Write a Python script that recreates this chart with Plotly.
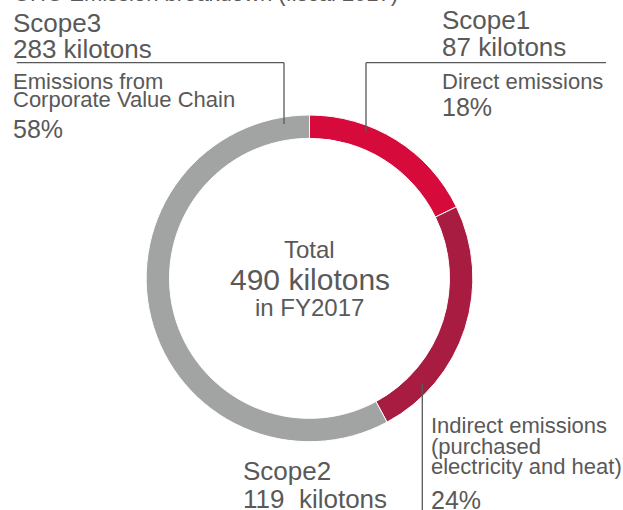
import plotly.graph_objects as go

# Data
##################################

scopes = ["Scope1", "Scope2", "Scope3"]
kilotons = [87, 119, 283]
shares = ["18%", "24%", "58%"]
descriptions = [
    ["Direct emissions"],
    ["Indirect emissions", "(purchased", "electricity and heat)"],
    ["Emissions from", "Corporate Value Chain"],
]
total_label = ["Total", "490 kilotons", "in FY2017"]
title_text = "GHG Emission breakdown (fiscal 2017)"

slice_colors = ["#D70A3C", "#A71C40", "#A2A4A3"]
text_color = "#595959"
W, H = 623, 510
FONT = "Liberation Sans, Arial, sans-serif"


def px_x(x):
    return x / W


def px_y(y):
    return 1 - y / H


def add_text(fig, text, x, y, size, anchor="left"):
    """ Place a single text line; y is the middle of the capital letters in px. """
    fig.add_annotation(
        text=text,
        x=px_x(x),
        y=px_y(y),
        xref="paper",
        yref="paper",
        xanchor=anchor,
        yanchor="middle",
        showarrow=False,
        font=dict(size=size, color=text_color, family=FONT),
    )


def add_line(fig, x0, y0, x1, y1):
    fig.add_shape(
        type="line",
        xref="paper",
        yref="paper",
        x0=px_x(x0),
        y0=px_y(y0),
        x1=px_x(x1),
        y1=px_y(y1),
        line=dict(color=text_color, width=1.3),
    )


fig = go.Figure(
    go.Pie(
        labels=scopes,
        values=kilotons,
        hole=0.857,
        sort=False,
        direction="clockwise",
        rotation=0,
        textinfo="none",
        hoverinfo="label+value",
        marker=dict(colors=slice_colors, line=dict(color="white", width=1)),
        domain=dict(x=[145.7 / W, 473.3 / W], y=[1 - 441.7 / H, 1 - 115 / H]),
        showlegend=False,
    )
)

# Title, mostly cut off at the top edge
fig.add_annotation(
    text=title_text,
    x=px_x(11),
    y=px_y(-6.5),
    xref="paper",
    yref="paper",
    xanchor="left",
    yanchor="middle",
    showarrow=False,
    font=dict(size=22, color=text_color, family=FONT),
)

# Scope3 (top left)
add_text(fig, scopes[2], 11, 23, 26)
add_text(fig, f"{kilotons[2]} kilotons", 11, 48.5, 26)
add_text(fig, descriptions[2][0], 11, 81, 22)
add_text(fig, descriptions[2][1], 11, 99.5, 22)
add_text(fig, shares[2], 11, 128.5, 25)
add_line(fig, 16.7, 62.7, 284, 62.7)
add_line(fig, 284, 62.7, 284, 124)

# Scope1 (top right)
add_text(fig, scopes[0], 440, 20.5, 26)
add_text(fig, f"{kilotons[0]} kilotons", 440, 46.5, 26)
add_text(fig, descriptions[0][0], 440, 81.5, 22)
add_text(fig, shares[0], 440, 106.5, 25)
add_line(fig, 366, 62.7, 606, 62.7)
add_line(fig, 366, 62.7, 366, 131.7)

# Scope2 (bottom)
add_text(fig, scopes[1], 241, 471, 26)
add_text(fig, f"{kilotons[1]}\u00a0 kilotons", 241, 499, 26)
add_text(fig, descriptions[1][0], 429, 425, 22)
add_text(fig, descriptions[1][1], 429, 446, 22)
add_text(fig, descriptions[1][2], 429, 466, 22)
add_text(fig, shares[1], 429, 499.5, 25)
add_line(fig, 422.3, 383.3, 422.3, 512)

# Centre of the ring
add_text(fig, total_label[0], 309.5, 249, 24, anchor="center")
add_text(fig, total_label[1], 309.5, 279.5, 30, anchor="center")
add_text(fig, total_label[2], 309.5, 307, 24, anchor="center")

fig.update_layout(
    width=W,
    height=H,
    margin=dict(l=0, r=0, t=0, b=0),
    paper_bgcolor="white",
    plot_bgcolor="white",
    font=dict(family=FONT, color=text_color),
)

# drop the default page margin so the figure sits at the window's corner
fig.write_html(
    "out.html",
    config={"displayModeBar": False},
    post_script="document.body.style.margin='0';document.body.style.overflow='hidden';",
)
